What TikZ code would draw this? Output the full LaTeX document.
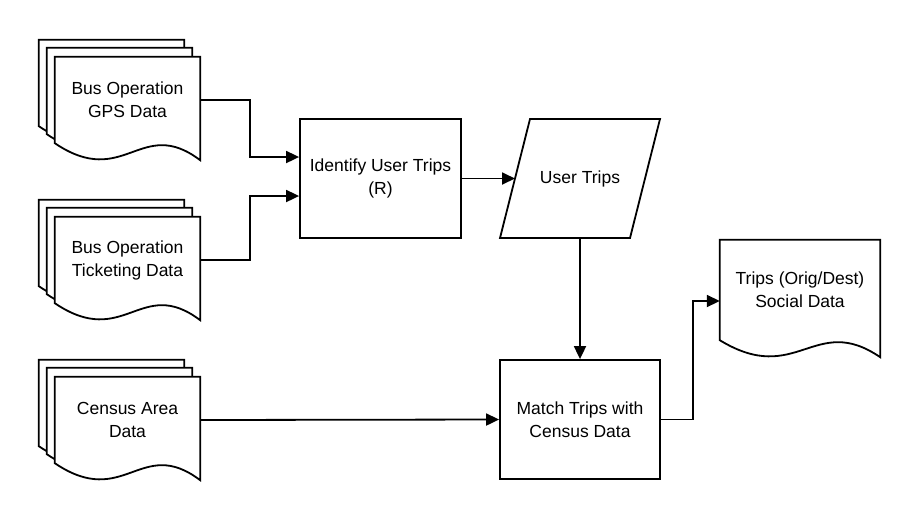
\documentclass[tikz,border=0pt]{standalone}
\usepackage{fontspec}
\setmainfont{Liberation Sans}
\usetikzlibrary{arrows.meta,calc}
\tikzset{
  lbl/.style={font=\fontsize{17.5}{23}\selectfont, align=center},
  conn/.style={line width=1.8pt, -{Triangle[length=13pt,width=12pt]}},
  shp/.style={draw, line width=1.8pt, fill=white, line join=miter},
  docbox/.style={lbl, minimum width=145pt, minimum height=86pt, inner sep=0pt, draw=none},
  procbox/.style={lbl, draw, line width=1.8pt, minimum width=161pt, minimum height=119pt, inner sep=0pt},
}
% document outline of a named node, shifted by #2
\newcommand{\docpath}[2]{%
  ($(#1.south east)+(0,17)+#2$) -- ($(#1.north east)+#2$) -- ($(#1.north west)+#2$) -- ($(#1.south west)+#2$)
  .. controls ($($(#1.south west)!0.48!(#1.south east)$)+(0,47)+#2$) and ($($(#1.south west)!0.59!(#1.south east)$)+(0,-28)+#2$) ..
  ($(#1.south east)+(0,17)+#2$) -- cycle}
\begin{document}
\begin{tikzpicture}[x=1pt,y=-1pt]
\useasboundingbox (0,0) rectangle (920,520);

% nodes
\node[docbox] (gps) at (127.5,100) {Bus Operation\\GPS Data};
\node[docbox] (tick) at (127.5,260) {Bus Operation\\Ticketing Data};
\node[docbox] (census) at (127.5,420) {Census Area\\Data};
\node[procbox] (id) at (380.5,178.5) {Identify User Trips\\(R)};
\node[lbl, minimum width=130pt, minimum height=119pt, inner sep=0pt] (ut) at (580,178.5) {User Trips};
\node[procbox, minimum width=160pt] (match) at (580,419.5) {Match Trips with\\Census Data};
\node[docbox, minimum width=160pt, minimum height=100pt] (out) at (800,290) {Trips (Orig/Dest)\\Social Data};

% shapes (multi-documents)
\foreach \n in {gps,tick,census}{
  \draw[shp] \docpath{\n}{(-16,-17)};
  \draw[shp] \docpath{\n}{(-8,-9)};
  \draw[shp] \docpath{\n}{(0,0)};
}
\draw[shp, fill=none] \docpath{out}{(0,0)};
\draw[shp, fill=none] ($(ut)+(-50,-59.5)$) -- ($(ut)+(80,-59.5)$) -- ($(ut)+(50,59.5)$) -- ($(ut)+(-80,59.5)$) -- cycle;

% redraw texts on top
\node[lbl] at (gps) {Bus Operation\\GPS Data};
\node[lbl] at (tick) {Bus Operation\\Ticketing Data};
\node[lbl] at (census) {Census Area\\Data};

% connector endpoints
\coordinate (idin1) at ($(id.west)+(0,-21.5)$);
\coordinate (idin2) at ($(id.west)+(0,17.5)$);
\coordinate (utin) at ($(ut)+(-65,0)$);
\coordinate (outin) at ($(out.west)+(0,11)$);

% connectors
\draw[conn] (gps.east) -- ++(50,0) |- (idin1);
\draw[conn] (tick.east) -- ++(50,0) |- (idin2);
\draw[conn] (id.east) -- (utin);
\draw[conn] (ut.south) -- (match.north);
\draw[conn] (census.east) -- (match.west);
\draw[conn] (match.east) -- ++(32,0) |- (outin);
\end{tikzpicture}
\end{document}
